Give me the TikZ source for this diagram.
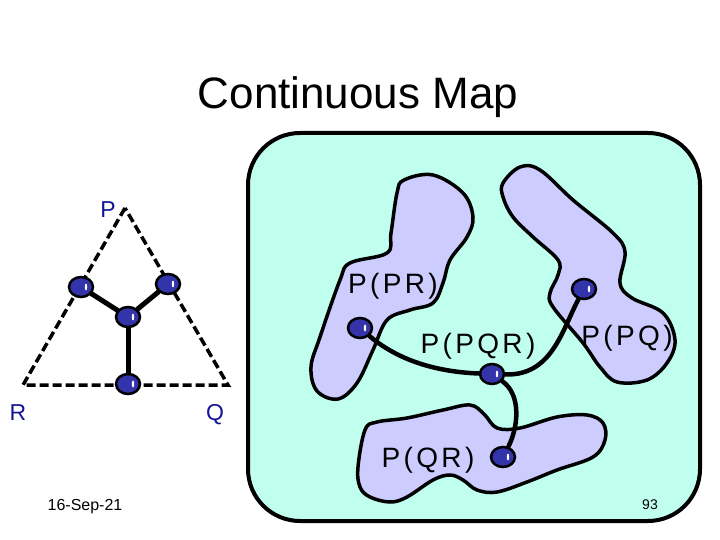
\documentclass[tikz,border=0pt]{standalone}
\usepackage{fontspec}
\setmainfont{Liberation Sans}
\newfontfamily\spacedfont[LetterSpace=12]{Liberation Sans}
\usepackage{tikz}
\usetikzlibrary{shapes.geometric}
\definecolor{mapbg}{RGB}{192,255,238}
\definecolor{regionfill}{RGB}{204,204,255}
\definecolor{dotblue}{RGB}{51,51,170}
\definecolor{vtxblue}{RGB}{20,20,150}
\tikzstyle{dot} = [ellipse, draw=black, line width=2.5pt, fill=dotblue, minimum width=24pt, minimum height=20pt, inner sep=0pt, path picture={\fill[white] ([xshift=5pt]path picture bounding box.center) ellipse (1.2pt and 3.5pt);}]
\tikzstyle{edge} = [line width=4.5pt, line cap=round]
\tikzstyle{side} = [line width=3.5pt, dash pattern=on 9pt off 4pt]
\tikzstyle{region} = [draw=black, line width=3.5pt, fill=regionfill]
\tikzstyle{lbl} = [anchor=base, inner sep=0pt, font=\spacedfont\fontsize{28}{30}\selectfont]
\tikzstyle{vtx} = [anchor=base, inner sep=0pt, text=vtxblue, font=\fontsize{23}{25}\selectfont]

\begin{document}
\begin{tikzpicture}[x=1pt, y=-1pt]
\useasboundingbox (0,0) rectangle (720,540);
\node (title) [anchor=base, inner sep=0pt, font=\fontsize{44}{48}\selectfont] at (358,109) {Continuous Map};

% the simplex
\coordinate (P) at (125,208);
\coordinate (R) at (23,385);
\coordinate (Q) at (228,385);
\draw [side] (P) -- (R) -- (Q) -- cycle;
\node (lP) [vtx] at (108,218) {P};
\node (lR) [vtx] at (18,420) {R};
\node (lQ) [vtx] at (215,420) {Q};

\node (sPR) [dot] at (81,287) {};
\node (sPQ) [dot] at (168,284) {};
\node (sPQR) [dot] at (128,317) {};
\node (sQR) [dot] at (128,384) {};
\draw [edge, line width=5pt] (sPR) -- (sPQR);
\draw [edge, line width=5pt] (sPQ) -- (sPQR);
\draw [edge, line width=5pt] (sPQR) -- (sQR);

% the space
\draw [line width=4pt, fill=mapbg, rounded corners=52pt] (248,133) rectangle (700,521);

\draw [region] plot [smooth cycle, tension=0.6] coordinates {(397,193) (404,180) (433,175) (463,193) (473,217) (467,237) (450,260) (443,283) (433,303) (410,310) (387,320) (373,350) (357,383) (338,399) (317,391) (311,367) (320,337) (340,280) (350,263) (387,253) (391,233)};
\draw [region] plot [smooth cycle, tension=0.6] coordinates {(503,183) (520,167) (540,170) (573,200) (613,233) (625,252) (620,283) (632,298) (663,313) (675,340) (667,363) (647,380) (617,382) (600,367) (583,343) (553,307) (550,293) (558,275) (558,260) (533,237) (513,217) (503,197)};
\draw [region] plot [smooth cycle, tension=0.6] coordinates {(358,467) (365,430) (377,422) (407,418) (443,410) (470,405) (484,414) (497,428) (520,428) (557,417) (587,415) (603,423) (605,440) (593,457) (557,470) (527,482) (497,492) (477,490) (463,480) (450,475) (433,480) (407,497) (390,502) (370,497) (360,487)};

\node (PPR) [lbl] at (393,293) {P(PR)};
\node (PPQR) [lbl] at (478,353) {P(PQR)};
\node (PPQ) [lbl] at (627,345) {P(PQ)};
\node (PQR) [lbl] at (428,467) {P(QR)};

\node (mPR) [dot] at (360,328) {};
\node (mPQR) [dot] at (492,374) {};
\node (mPQ) [dot] at (584,289) {};
\node (mQR) [dot] at (503,457) {};
\draw [edge] (mPR) .. controls (400,362) and (440,372) .. (mPQR);
\draw [edge] (mPQR) .. controls (552,376) and (562,330) .. (mPQ);
\draw [edge] (mPQR) .. controls (522,395) and (518,428) .. (mQR);

% footer
\node (date) [anchor=base, inner sep=0pt, font=\fontsize{16}{18}\selectfont] at (85,510) {16-Sep-21};
\node (page) [anchor=base, inner sep=0pt, font=\fontsize{14}{16}\selectfont] at (650,509) {93};
\end{tikzpicture}
\end{document}
